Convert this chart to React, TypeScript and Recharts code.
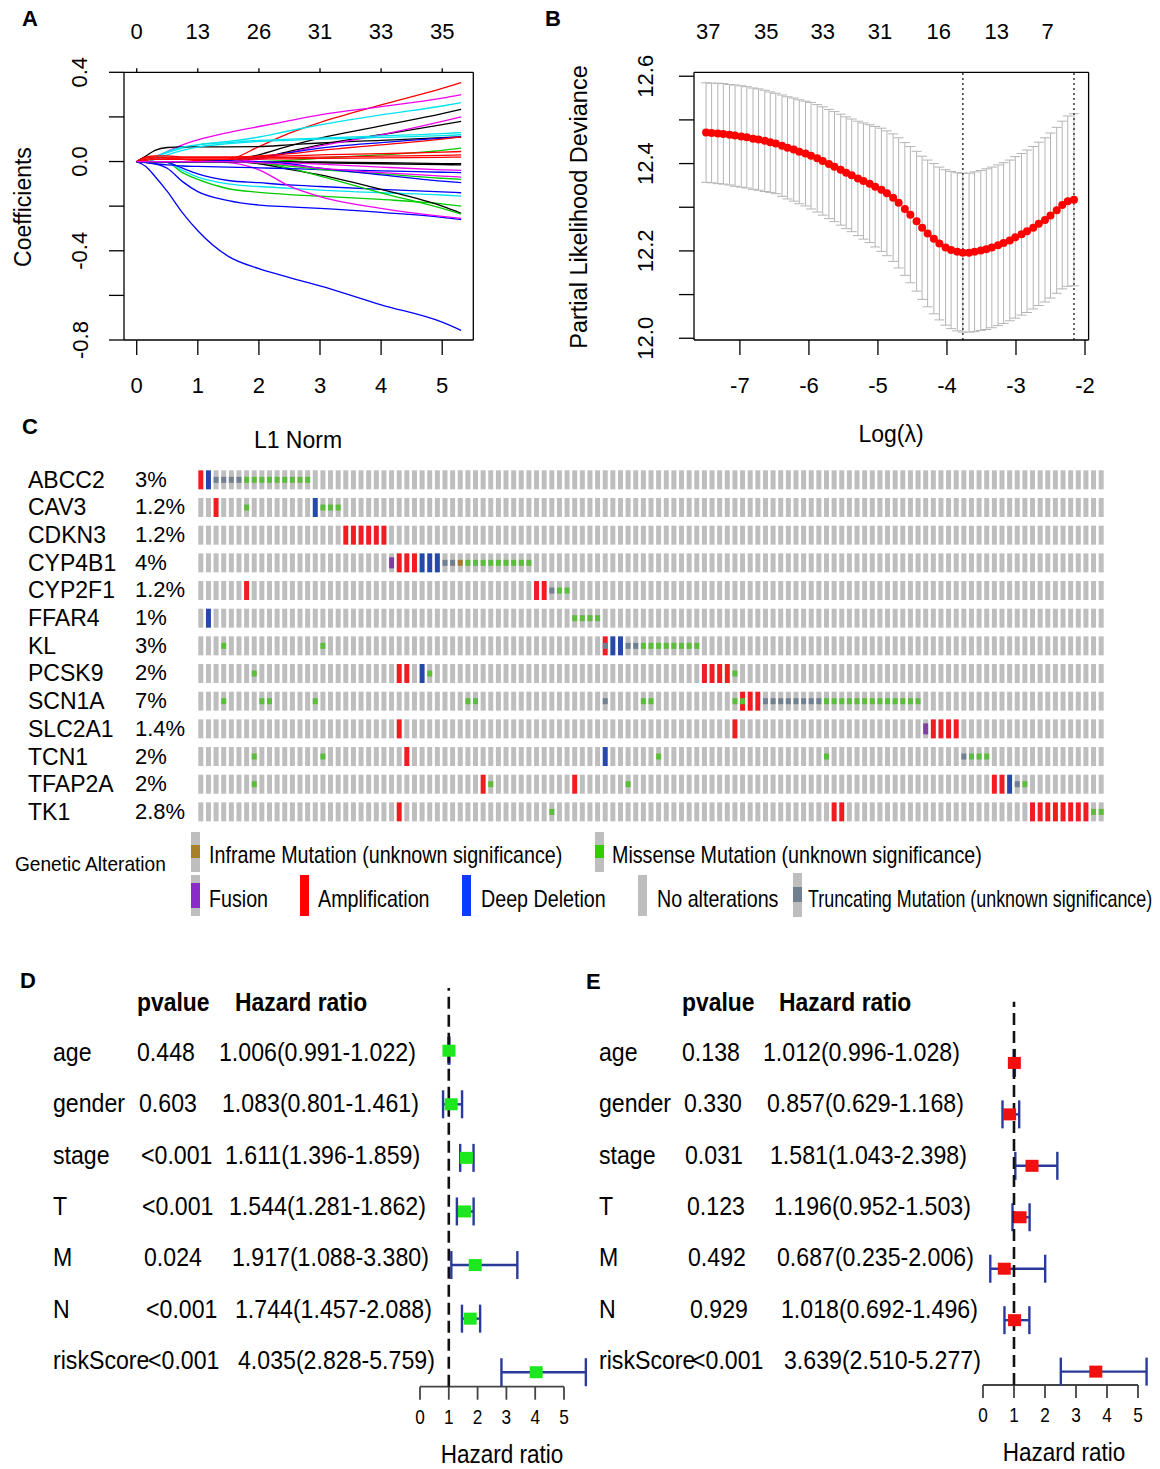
import React from 'react';
import {
  LineChart,
  Line,
  XAxis,
  YAxis,
  ScatterChart,
  Scatter,
  ErrorBar,
  ReferenceLine,
} from 'recharts';

const FONT = '"Liberation Sans", Arial, Helvetica, sans-serif';

// ---------- A: lasso coefficient paths ----------
const l1Norm = [0, 0.15, 0.3, 0.5, 0.75, 1, 1.5, 2, 2.5, 3, 4, 5, 5.31];
const normTicks = [0, 1, 2, 3, 4, 5];
const dfAtNorm = ['0', '13', '26', '31', '33', '35'];
const coefTicks = [-0.8, -0.6, -0.4, -0.2, 0, 0.2, 0.4];
const coefLabeled = [-0.8, -0.4, 0, 0.4];

const coefPaths = [
  [0, -0.022, -0.067, -0.134, -0.23, -0.31, -0.425, -0.48, -0.52, -0.557, -0.642, -0.72, -0.757],
  [0, -0.004, -0.01, -0.03, -0.09, -0.135, -0.175, -0.195, -0.203, -0.21, -0.228, -0.25, -0.26],
  [0, 0, 0, -0.004, -0.05, -0.08, -0.122, -0.138, -0.148, -0.155, -0.17, -0.19, -0.2],
  [0, 0, 0, -0.004, -0.04, -0.07, -0.1, -0.112, -0.12, -0.128, -0.14, -0.15, -0.155],
  [0, 0, 0, -0.004, -0.03, -0.055, -0.085, -0.095, -0.105, -0.112, -0.125, -0.136, -0.14],
  [0, 0, 0, 0, 0, 0, -0.005, -0.037, -0.11, -0.157, -0.21, -0.246, -0.255],
  [0, 0, 0, 0, 0, 0, 0, -0.01, -0.035, -0.06, -0.125, -0.2, -0.232],
  [0, 0, 0, 0, 0, 0, 0, -0.005, -0.03, -0.065, -0.14, -0.21, -0.235],
  [0, 0.02, 0.02, 0.015, 0.01, 0.005, 0.01, 0.067, 0.127, 0.175, 0.254, 0.328, 0.354],
  [0, 0.005, 0.02, 0.045, 0.075, 0.097, 0.13, 0.157, 0.183, 0.209, 0.246, 0.284, 0.3],
  [0, 0.005, 0.02, 0.04, 0.06, 0.075, 0.09, 0.11, 0.138, 0.164, 0.209, 0.249, 0.264],
  [0, 0.025, 0.05, 0.063, 0.066, 0.066, 0.066, 0.067, 0.075, 0.083, 0.095, 0.107, 0.11],
  [0, 0, 0, 0, 0, 0, 0.005, 0.03, 0.07, 0.105, 0.16, 0.215, 0.234],
  [0, 0, 0, 0, 0, 0, 0, 0.015, 0.045, 0.075, 0.12, 0.165, 0.18],
  [0, 0, 0, 0, 0, 0, 0, 0.01, 0.04, 0.07, 0.12, 0.18, 0.2],
  [0, 0.005, 0.02, 0.045, 0.065, 0.075, 0.085, 0.095, 0.1, 0.105, 0.115, 0.125, 0.13],
  [0, 0, 0.01, 0.03, 0.05, 0.065, 0.08, 0.09, 0.095, 0.1, 0.108, 0.116, 0.12],
  [0, 0, 0, 0, 0, 0, 0.005, 0.02, 0.04, 0.06, 0.085, 0.105, 0.11],
  [0, 0.02, 0.025, 0.025, 0.02, 0.02, 0.02, 0.025, 0.035, 0.05, 0.075, 0.1, 0.11],
  [0, 0, 0, 0, 0, 0, 0, 0, 0.005, 0.015, 0.03, 0.05, 0.06],
  [0, 0.015, 0.02, 0.02, 0.02, 0.02, 0.02, 0.022, 0.025, 0.03, 0.035, 0.042, 0.045],
  [0, 0.01, 0.015, 0.015, 0.015, 0.015, 0.015, 0.016, 0.018, 0.02, 0.024, 0.028, 0.03],
  [0, 0.005, 0.01, 0.01, 0.01, 0.01, 0.01, 0.011, 0.012, 0.014, 0.016, 0.019, 0.02],
  [0, 0, 0, 0, 0, 0, 0, 0, 0, -0.002, -0.005, -0.009, -0.01],
  [0, 0, 0, 0, 0, 0, 0, -0.002, -0.004, -0.006, -0.01, -0.014, -0.015],
  [0, 0, 0, 0, 0, 0, 0, 0, -0.005, -0.012, -0.025, -0.037, -0.04],
  [0, -0.005, -0.01, -0.015, -0.02, -0.022, -0.025, -0.028, -0.032, -0.036, -0.042, -0.048, -0.05],
  [0, 0, 0, 0, 0, 0, 0, -0.005, -0.02, -0.035, -0.055, -0.075, -0.08],
  [0, 0, 0, 0, 0, 0, 0, 0, -0.01, -0.03, -0.06, -0.088, -0.095],
  [0, 0, 0, 0, 0, 0, 0, -0.005, -0.015, -0.03, -0.05, -0.065, -0.07],
];

const K = '#000000';
const R = '#ff0000';
const G = '#00cd00';
const B = '#0000ff';
const C = '#00e4f0';
const M = '#f000f0';
const pathColors = [B, B, G, C, B, M, K, G, R, M, C, K, K, K, M, C, C, B, R, G, R, R, R, K, K, M, B, G, B, M];

// ---------- B: cross-validation curve ----------
const logLambda = [
  -7.49, -7.41, -7.32, -7.24, -7.15, -7.07, -6.98, -6.9, -6.81, -6.73,
  -6.64, -6.56, -6.48, -6.39, -6.31, -6.22, -6.14, -6.05, -5.97, -5.88,
  -5.8, -5.71, -5.63, -5.54, -5.46, -5.38, -5.29, -5.21, -5.12, -5.04,
  -4.95, -4.87, -4.78, -4.7, -4.61, -4.53, -4.44, -4.36, -4.28, -4.19,
  -4.11, -4.02, -3.94, -3.85, -3.77, -3.68, -3.6, -3.51, -3.43, -3.35,
  -3.26, -3.18, -3.09, -3.01, -2.92, -2.84, -2.75, -2.67, -2.58, -2.5,
  -2.41, -2.33, -2.25, -2.16,
];
const cvMean = [
  12.471, 12.47, 12.469, 12.468, 12.466, 12.464, 12.462, 12.46, 12.457, 12.455,
  12.452, 12.449, 12.446, 12.441, 12.436, 12.432, 12.427, 12.423, 12.418, 12.412,
  12.406, 12.399, 12.393, 12.386, 12.379, 12.373, 12.366, 12.36, 12.354, 12.347,
  12.34, 12.332, 12.322, 12.31, 12.296, 12.283, 12.268, 12.253, 12.24, 12.228,
  12.217, 12.208, 12.202, 12.198, 12.196, 12.196, 12.198, 12.201, 12.204, 12.208,
  12.213, 12.218, 12.224, 12.231, 12.238, 12.245, 12.253, 12.262, 12.271, 12.281,
  12.293, 12.305, 12.314, 12.317,
];
const cvSE = [
  0.114, 0.114, 0.115, 0.115, 0.115, 0.116, 0.116, 0.116, 0.116, 0.116,
  0.116, 0.115, 0.115, 0.116, 0.117, 0.118, 0.119, 0.12, 0.122, 0.123,
  0.124, 0.125, 0.126, 0.127, 0.128, 0.129, 0.131, 0.133, 0.135, 0.138,
  0.141, 0.143, 0.146, 0.149, 0.152, 0.156, 0.16, 0.164, 0.168, 0.172,
  0.175, 0.178, 0.18, 0.181, 0.182, 0.182, 0.183, 0.183, 0.184, 0.184,
  0.184, 0.184, 0.184, 0.185, 0.185, 0.186, 0.186, 0.187, 0.188, 0.189,
  0.19, 0.192, 0.195, 0.197,
];
const lambdaMin = -3.77;
const lambda1se = -2.16;
const lambdaTicks = [-7, -6, -5, -4, -3, -2];
const dfAtLambdaPos = [-7.46, -6.62, -5.8, -4.97, -4.12, -3.28, -2.54];
const dfAtLambda = ['37', '35', '33', '31', '16', '13', '7'];
const devTicks = [12.0, 12.1, 12.2, 12.3, 12.4, 12.5, 12.6];
const devLabeled = [12.0, 12.2, 12.4, 12.6];

// ---------- C: oncoprint ----------
const genes = ['ABCC2', 'CAV3', 'CDKN3', 'CYP4B1', 'CYP2F1', 'FFAR4', 'KL', 'PCSK9', 'SCN1A', 'SLC2A1', 'TCN1', 'TFAP2A', 'TK1'];
const alteredPct = ['3%', '1.2%', '1.2%', '4%', '1.2%', '1%', '3%', '2%', '7%', '1.4%', '2%', '2%', '2.8%'];
const sampleCount = 119;
// [first sample, last sample, alteration]
type Run = [number, number, string];
const alterationRuns: Run[][] = [
  [[0, 0, 'amp'], [1, 1, 'del'], [2, 5, 'trunc'], [6, 14, 'miss']],
  [[2, 2, 'amp'], [6, 6, 'miss'], [15, 15, 'del'], [16, 18, 'miss']],
  [[19, 24, 'amp']],
  [[25, 25, 'fusion'], [26, 28, 'amp'], [29, 31, 'del'], [32, 33, 'trunc'], [34, 34, 'inframe'], [35, 43, 'miss']],
  [[6, 6, 'amp'], [44, 45, 'amp'], [46, 46, 'trunc'], [47, 48, 'miss']],
  [[1, 1, 'del'], [49, 52, 'miss']],
  [[3, 3, 'miss'], [16, 16, 'miss'], [53, 53, 'amp+trunc'], [54, 55, 'del'], [56, 57, 'trunc'], [58, 65, 'miss']],
  [[7, 7, 'miss'], [26, 27, 'amp'], [29, 29, 'del'], [30, 30, 'miss'], [66, 69, 'amp'], [70, 70, 'miss']],
  [[3, 3, 'miss'], [8, 9, 'miss'], [15, 15, 'miss'], [35, 36, 'miss'], [53, 53, 'trunc'], [58, 59, 'miss'], [70, 70, 'miss'], [71, 71, 'amp+miss'], [72, 73, 'amp'], [74, 81, 'trunc'], [82, 94, 'miss']],
  [[26, 26, 'amp'], [70, 70, 'amp'], [95, 95, 'fusion'], [96, 99, 'amp']],
  [[7, 7, 'miss'], [16, 16, 'miss'], [27, 27, 'amp'], [53, 53, 'del'], [60, 60, 'miss'], [82, 82, 'miss'], [100, 100, 'trunc'], [101, 103, 'miss']],
  [[7, 7, 'miss'], [37, 37, 'amp'], [38, 38, 'miss'], [49, 49, 'amp'], [56, 56, 'miss'], [104, 105, 'amp'], [106, 106, 'del'], [107, 107, 'trunc'], [108, 108, 'miss']],
  [[26, 26, 'amp'], [46, 46, 'miss'], [83, 84, 'amp'], [109, 116, 'amp'], [117, 118, 'miss']],
];

// ---------- D / E: cox regression ----------
const coxVars = ['age', 'gender', 'stage', 'T', 'M', 'N', 'riskScore'];
const uniP = ['0.448', '0.603', '<0.001', '<0.001', '0.024', '<0.001', '<0.001'];
const uniHR = [1.006, 1.083, 1.611, 1.544, 1.917, 1.744, 4.035];
const uniLow = [0.991, 0.801, 1.396, 1.281, 1.088, 1.457, 2.828];
const uniHigh = [1.022, 1.461, 1.859, 1.862, 3.38, 2.088, 5.759];
const multiP = ['0.138', '0.330', '0.031', '0.123', '0.492', '0.929', '<0.001'];
const multiHR = [1.012, 0.857, 1.581, 1.196, 0.687, 1.018, 3.639];
const multiLow = [0.996, 0.629, 1.043, 0.952, 0.235, 0.692, 2.51];
const multiHigh = [1.028, 1.168, 2.398, 1.503, 2.006, 1.496, 5.277];
const hrTicks = [0, 1, 2, 3, 4, 5];

// ---------- colours ----------
const GRAY = '#bebebe';
const AMP = '#f01c22';
const DEL = '#2648a8';
const MISS = '#5cbc3c';
const TRUNC = '#708090';
const INFRAME = '#a8782a';
const FUSION = '#7e3fa0';

// ---------- helpers ----------
type TxtProps = {
  x: number;
  y: number;
  size: number;
  children: React.ReactNode;
  bold?: boolean;
  sx?: number;
  anchor?: 'start' | 'middle' | 'end';
  rot?: boolean;
};
function Txt({ x, y, size, children, bold, sx = 1, anchor = 'start', rot }: TxtProps) {
  const shift = anchor === 'middle' ? '-50%' : anchor === 'end' ? '-100%' : '0';
  return (
    <div
      style={{
        position: 'absolute',
        left: x,
        top: y,
        fontSize: size,
        fontWeight: bold ? 700 : 400,
        lineHeight: 1,
        whiteSpace: 'nowrap',
        transformOrigin: '0 0',
        transform: rot ? 'rotate(-90deg) translate(-50%, -50%)' : `scaleX(${sx}) translate(${shift}, -50%)`,
      }}
    >
      {children}
    </div>
  );
}

const NumTick = (props: any) => {
  const { x, y, payload, dy = 0, labels, vals, size = 22, sx = 1 } = props;
  let label = String(payload.value);
  if (labels) {
    const i = vals.findIndex((t: number) => Math.abs(t - payload.value) < 1e-6);
    label = i >= 0 ? labels[i] : '';
  }
  return (
    <g transform={`translate(${x},${y + dy}) scale(${sx},1)`}>
      <text x={0} y={0} textAnchor="middle" dominantBaseline="central" fontSize={size} fontFamily={FONT} fill="#000">
        {label}
      </text>
    </g>
  );
};

const RotTick = (props: any) => {
  const { y, payload, cx, show } = props;
  const v = payload.value as number;
  if (!show.some((s: number) => Math.abs(s - v) < 1e-6)) return <g />;
  return (
    <text
      x={cx}
      y={y}
      transform={`rotate(-90 ${cx} ${y})`}
      textAnchor="middle"
      dominantBaseline="central"
      fontSize={22}
      fontFamily={FONT}
      fill="#000"
    >
      {v.toFixed(1)}
    </text>
  );
};

const boxLine = { stroke: '#000', strokeWidth: 1.3 };

function PanelA() {
  const rows = l1Norm.map((x, i) => {
    const r: Record<string, number> = { x };
    coefPaths.forEach((p, k) => {
      r['p' + k] = p[i];
    });
    return r;
  });
  const dom: [number, number] = [-0.208, 5.509];
  return (
    <div style={{ position: 'absolute', left: 0, top: 0 }}>
      <LineChart width={540} height={460} data={rows} margin={{ top: 0, right: 0, bottom: 0, left: 0 }}>
        <XAxis
          xAxisId={0}
          type="number"
          dataKey="x"
          domain={dom}
          allowDataOverflow
          ticks={normTicks}
          interval={0}
          height={120}
          tickSize={15}
          tickMargin={0}
          axisLine={boxLine}
          tickLine={boxLine}
          tick={(p: any) => <NumTick {...p} dy={30} />}
        />
        <XAxis
          xAxisId="top"
          orientation="top"
          type="number"
          dataKey="x"
          domain={dom}
          allowDataOverflow
          ticks={normTicks}
          interval={0}
          height={72.3}
          tickSize={4}
          tickMargin={0}
          axisLine={boxLine}
          tickLine={boxLine}
          tick={(p: any) => <NumTick {...p} dy={-36.6} labels={dfAtNorm} vals={normTicks} />}
        />
        <YAxis
          yAxisId={0}
          type="number"
          domain={[-0.8, 0.4]}
          allowDataOverflow
          ticks={coefTicks}
          interval={0}
          width={124}
          tickSize={15}
          tickMargin={0}
          axisLine={boxLine}
          tickLine={boxLine}
          tick={(p: any) => <RotTick {...p} cx={80} show={coefLabeled} />}
        />
        <YAxis
          yAxisId="right"
          orientation="right"
          type="number"
          domain={[-0.8, 0.4]}
          allowDataOverflow
          width={66.7}
          tick={false}
          tickLine={false}
          axisLine={boxLine}
        />
        {coefPaths.map((_, k) => (
          <Line
            key={k}
            type="monotone"
            dataKey={'p' + k}
            stroke={pathColors[k]}
            strokeWidth={1.3}
            dot={false}
            isAnimationActive={false}
          />
        ))}
      </LineChart>
    </div>
  );
}

const RedDot = (p: any) => <circle cx={p.cx} cy={p.cy} r={4} fill="#ff0000" />;

function PanelB() {
  const pts = logLambda.map((x, i) => ({ x, y: cvMean[i], err: cvSE[i] }));
  const dom: [number, number] = [-7.665, -1.948];
  const ydom: [number, number] = [11.996, 12.609];
  return (
    <div style={{ position: 'absolute', left: 560, top: 0 }}>
      <ScatterChart width={600} height={460} margin={{ top: 0, right: 0, bottom: 0, left: 0 }}>
        <XAxis
          xAxisId={0}
          type="number"
          dataKey="x"
          domain={dom}
          allowDataOverflow
          ticks={lambdaTicks}
          interval={0}
          height={120}
          tickSize={15}
          tickMargin={0}
          axisLine={boxLine}
          tickLine={boxLine}
          tick={(p: any) => <NumTick {...p} dy={30} />}
        />
        <XAxis
          xAxisId="top"
          orientation="top"
          type="number"
          dataKey="x"
          domain={dom}
          allowDataOverflow
          ticks={dfAtLambdaPos}
          interval={0}
          height={72.3}
          tickSize={0}
          tickMargin={0}
          axisLine={boxLine}
          tickLine={false}
          tick={(p: any) => <NumTick {...p} dy={-40.6} labels={dfAtLambda} vals={dfAtLambdaPos} />}
        />
        <YAxis
          yAxisId={0}
          type="number"
          dataKey="y"
          domain={ydom}
          allowDataOverflow
          ticks={devTicks}
          interval={0}
          width={134}
          tickSize={15}
          tickMargin={0}
          axisLine={boxLine}
          tickLine={boxLine}
          tick={(p: any) => <RotTick {...p} cx={86} show={devLabeled} />}
        />
        <YAxis
          yAxisId="right"
          orientation="right"
          type="number"
          domain={ydom}
          allowDataOverflow
          width={71.4}
          tick={false}
          tickLine={false}
          axisLine={boxLine}
        />
        <Scatter data={pts} shape={RedDot} isAnimationActive={false}>
          <ErrorBar dataKey="err" direction="y" width={5} stroke="#b4b4b4" strokeWidth={1} />
        </Scatter>
        <ReferenceLine x={lambdaMin} stroke="#444" strokeWidth={1.6} strokeDasharray="2 3" />
        <ReferenceLine x={lambda1se} stroke="#444" strokeWidth={1.6} strokeDasharray="2 3" />
      </ScatterChart>
    </div>
  );
}

const CELL_W = 5;
const CELL_H = 19;
function CellMark(props: any) {
  const { cx, cy, payload } = props;
  const alt: string = payload.alt;
  const x = cx - CELL_W / 2;
  const base = alt === 'del' ? DEL : alt.startsWith('amp') ? AMP : GRAY;
  const small =
    alt === 'miss' || alt === 'amp+miss'
      ? MISS
      : alt === 'trunc' || alt === 'amp+trunc'
      ? TRUNC
      : alt === 'inframe'
      ? INFRAME
      : null;
  return (
    <g>
      <rect x={x} y={cy - CELL_H / 2} width={CELL_W} height={CELL_H} fill={base} />
      {small && <rect x={x} y={cy - 3} width={CELL_W} height={6} fill={small} />}
      {alt === 'fusion' && <rect x={x} y={cy - 5.5} width={CELL_W} height={11} fill={FUSION} />}
    </g>
  );
}

function PanelC() {
  const cells = genes.flatMap((_, g) => {
    const row: string[] = Array(sampleCount).fill('none');
    alterationRuns[g].forEach(([a, b, t]) => {
      for (let c = a; c <= b; c++) row[c] = t;
    });
    return row.map((alt, c) => ({ c, g, alt }));
  });
  return (
    <div style={{ position: 'absolute', left: 0, top: 440 }}>
      <ScatterChart width={1160} height={400} margin={{ top: 26, right: 55, bottom: 14.3, left: 197 }}>
        <XAxis type="number" dataKey="c" domain={[-0.5, 118.5]} allowDataOverflow hide />
        <YAxis type="number" dataKey="g" domain={[-0.5, 12.5]} allowDataOverflow reversed hide />
        <Scatter data={cells} shape={CellMark} isAnimationActive={false} />
      </ScatterChart>
    </div>
  );
}

function LegendBar({ x, top, h, fill, seg }: { x: number; top: number; h: number; fill: string; seg?: [number, number, string] }) {
  return (
    <div style={{ position: 'absolute', left: x, top, width: 9, height: h, background: fill }}>
      {seg && <div style={{ position: 'absolute', left: 0, top: seg[0], width: 9, height: seg[1], background: seg[2] }} />}
    </div>
  );
}

function OncoLegend() {
  const ls = 24;
  const lx = 0.82;
  return (
    <>
      <Txt x={15} y={863} size={21} sx={0.91}>Genetic Alteration</Txt>
      <LegendBar x={191} top={832} h={40} fill={GRAY} seg={[13, 13, '#a9802a']} />
      <Txt x={209} y={855} size={ls} sx={lx}>Inframe Mutation (unknown significance)</Txt>
      <LegendBar x={595} top={832} h={40} fill={GRAY} seg={[13, 13, '#33cc00']} />
      <Txt x={612} y={855} size={ls} sx={lx}>Missense Mutation (unknown significance)</Txt>
      <LegendBar x={191} top={875} h={41} fill={GRAY} seg={[8, 25, '#8a2bc9']} />
      <Txt x={209} y={899} size={ls} sx={lx}>Fusion</Txt>
      <LegendBar x={300} top={875} h={41} fill="#ff0000" />
      <Txt x={318} y={899} size={ls} sx={lx}>Amplification</Txt>
      <LegendBar x={462} top={875} h={41} fill="#0a3cff" />
      <Txt x={481} y={899} size={ls} sx={lx}>Deep Deletion</Txt>
      <LegendBar x={638} top={875} h={41} fill={GRAY} />
      <Txt x={657} y={899} size={ls} sx={lx}>No alterations</Txt>
      <LegendBar x={793} top={873} h={44} fill={GRAY} seg={[14, 15, TRUNC]} />
      <Txt x={808} y={899} size={ls} sx={0.745}>Truncating Mutation (unknown significance)</Txt>
    </>
  );
}

type ForestProps = {
  hr: number[];
  lo: number[];
  hi: number[];
  color: string;
  left: number;
  top: number;
  height: number;
  marginTop: number;
  axisHeight: number;
  xDomain: [number, number];
  yDomain: [number, number];
};
function ForestChart({ hr, lo, hi, color, left, top, height, marginTop, axisHeight, xDomain, yDomain }: ForestProps) {
  const data = hr.map((v, i) => ({ hr: v, row: i, err: [v - lo[i], hi[i] - v] }));
  const Square = (p: any) => <rect x={p.cx - 6.5} y={p.cy - 6} width={13} height={12} fill={color} />;
  return (
    <div style={{ position: 'absolute', left, top }}>
      <ScatterChart width={200} height={height} margin={{ top: marginTop, right: 0, bottom: 0, left: 0 }}>
        <XAxis
          type="number"
          dataKey="hr"
          domain={xDomain}
          allowDataOverflow
          ticks={hrTicks}
          interval={0}
          height={axisHeight}
          axisLine={false}
          tickSize={13}
          tickMargin={0}
          tickLine={{ stroke: '#444', strokeWidth: 1.8 }}
          tick={(p: any) => <NumTick {...p} dy={17} size={21} sx={0.82} />}
        />
        <YAxis type="number" dataKey="row" domain={yDomain} allowDataOverflow reversed hide />
        <ReferenceLine
          segment={[
            { x: 0, y: yDomain[1] },
            { x: 5, y: yDomain[1] },
          ]}
          stroke="#444"
          strokeWidth={1.8}
        />
        <Scatter data={data} shape={Square} isAnimationActive={false}>
          <ErrorBar dataKey="err" direction="x" width={14} stroke="#2a3a9c" strokeWidth={2.4} />
        </Scatter>
        <ReferenceLine x={1} stroke="#111" strokeWidth={2.6} strokeDasharray="12 6" />
      </ScatterChart>
    </div>
  );
}

function CoxTable({ labelX, pX, hrX, pDrift, hrDrift, pvals, hr, lo, hi }: any) {
  const fs = 26;
  const sx = 0.89;
  return (
    <>
      <Txt x={pX} y={1001.7} size={26} bold sx={0.88}>pvalue</Txt>
      <Txt x={hrX + 16} y={1001.7} size={26} bold sx={0.88}>Hazard ratio</Txt>
      {coxVars.map((v, i) => {
        const y = 1051.7 + 51.4 * i;
        return (
          <React.Fragment key={v}>
            <Txt x={labelX} y={y} size={fs} sx={sx}>{v}</Txt>
            <Txt x={pX + pDrift * i} y={y} size={fs} sx={sx}>{pvals[i]}</Txt>
            <Txt x={hrX + hrDrift * i} y={y} size={fs} sx={sx}>
              {`${hr[i].toFixed(3)}(${lo[i].toFixed(3)}-${hi[i].toFixed(3)})`}
            </Txt>
          </React.Fragment>
        );
      })}
    </>
  );
}

export default function App() {
  return (
    <div
      style={{
        position: 'absolute',
        left: 0,
        top: 0,
        width: 1160,
        height: 1469,
        background: '#fff',
        fontFamily: FONT,
        color: '#000',
        overflow: 'hidden',
      }}
    >
      <PanelA />
      <PanelB />
      <PanelC />

      <Txt x={22} y={19} size={22} bold>A</Txt>
      <Txt x={545} y={19} size={22} bold>B</Txt>
      <Txt x={22} y={427} size={22} bold>C</Txt>
      <Txt x={20} y={981} size={22} bold>D</Txt>
      <Txt x={586} y={982} size={22} bold>E</Txt>

      <Txt x={23} y={207} size={23} rot>Coefficients</Txt>
      <Txt x={298} y={440} size={23} anchor="middle">L1 Norm</Txt>
      <Txt x={580} y={207} size={23.5} rot>Partial Likelihood Deviance</Txt>
      <Txt x={891} y={434} size={23} anchor="middle">Log(λ)</Txt>

      {genes.map((g, i) => (
        <React.Fragment key={g}>
          <Txt x={28} y={479.8 + 27.67 * i} size={23}>{g}</Txt>
          <Txt x={135} y={479.8 + 27.67 * i} size={22}>{alteredPct[i]}</Txt>
        </React.Fragment>
      ))}
      <OncoLegend />

      <CoxTable labelX={53} pX={137} hrX={219} pDrift={1.8} hrDrift={3.2} pvals={uniP} hr={uniHR} lo={uniLow} hi={uniHigh} />
      <ForestChart
        hr={uniHR}
        lo={uniLow}
        hi={uniHigh}
        color="#1de81d"
        left={400}
        top={980}
        height={489}
        marginTop={8}
        axisHeight={82.3}
        xDomain={[-0.694, 6.25]}
        yDomain={[-1.17, 6.27]}
      />
      <Txt x={502} y={1454} size={25} sx={0.9} anchor="middle">Hazard ratio</Txt>

      <CoxTable labelX={599} pX={682} hrX={763} pDrift={1.6} hrDrift={3.5} pvals={multiP} hr={multiHR} lo={multiLow} hi={multiHigh} />
      <ForestChart
        hr={multiHR}
        lo={multiLow}
        hi={multiHigh}
        color="#f01010"
        left={960}
        top={990}
        height={479}
        marginTop={11.7}
        axisHeight={84}
        xDomain={[-0.742, 5.71]}
        yDomain={[-1.19, 6.26]}
      />
      <Txt x={1064} y={1452} size={25} sx={0.9} anchor="middle">Hazard ratio</Txt>
    </div>
  );
}
